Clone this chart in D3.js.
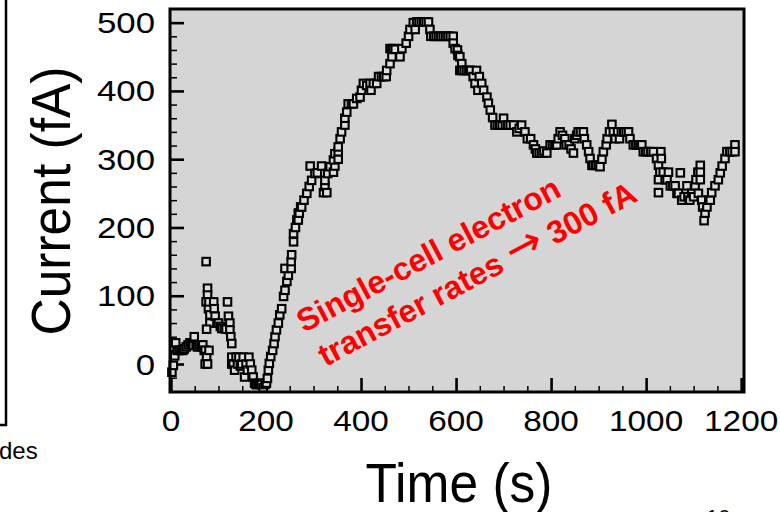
<!DOCTYPE html>
<html><head><meta charset="utf-8">
<script src="https://cdn.jsdelivr.net/npm/d3@7"></script>
<style>body{margin:0;background:#fff}svg{display:block}</style>
</head><body><svg width="780" height="512"></svg>
<script>
const times = [2,5,8,10,13,17,21,25,28,32,36,40,44,47,49,53,56,60,64,67,70,72,72,75,77,80,
74,77,77,74,79,82,82,75,80,90,91,93,97,100,104,107,112,116,119,121,124,124,126,128,
128,128,131,134,137,140,143,146,149,152,155,158,161,164,167,170,173,176,179,183,187,190,194,198,201,
203,205,207,210,214,217,219,222,226,229,233,237,240,244,247,240,253,253,254,258,258,262,265,268,268,270,273,275,280,
286,291,293,296,303,308,317,321,324,324,328,330,335,342,345,342,345,352,352,352,356,359,366,366,370,373,380,384,391,398,401,405,412,419,421,426,433,437,443,448,453,454,461,461,465,465,468,472,482,486,495,500,503,510,514,517,522,527,532,537,542,545,547,
553,558,563,568,573,578,583,588,594,594,598,603,604,608,612,608,612,617,622,627,631,636,640,643,649,646,654,658,665,668,672,677,682,687,692,697,700,704,709,714,721,728,733,738,745,750,757,763,767,770,775,780,785,791,798,803,808,812,815,819,824,829,832,838,842,847,850,854,857,862,868,870,875,879,882,886,889,894,899,903,907,910,916,918,923,928,931,935,940,944,948,953,958,963,966,973,978,983,987,991,994,999,1004,1010,1015,1022,1026,1029,1026,1026,1031,1032,1036,1040,1044,1047,1051,1056,1061,1065,1068,1072,1075,1080,1086,1088,1092,1096,1100,1103,1105,1109,1114,1114,1114,1110,1117,1119,1122,1124,1128,1132,1135,1138,1145,1152,1156,1160,1166,1170,1176,1181,1187,1187];
const currents = [-12,-2,12,31,20,20,20,20,22,25,28,31,30,27,40,28,25,28,25,28,20,0,20,11,0,20,
150,111,101,91,81,72,60,51,91,91,81,70,60,60,55,52,52,51,91,70,60,50,40,30,
10,0,0,-9,10,0,10,-3,0,10,-19,0,-9,10,0,-9,-19,-28,-30,-30,-28,-30,-35,-30,-28,
-21,-9,1,11,20,30,40,50,60,72,81,99,108,121,130,140,140,150,160,179,191,200,211,221,211,221,230,230,240,
250,260,290,269,279,280,290,251,260,269,251,279,289,281,290,299,308,300,311,318,330,340,350,360,369,381,381,381,389,391,401,411,408,411,401,411,411,421,421,421,421,430,440,462,450,461,462,461,450,462,470,480,490,500,490,501,501,501,501,501,501,490,480,
480,480,480,480,480,480,480,480,480,470,462,460,452,450,440,430,430,430,430,430,430,421,411,430,421,401,411,401,391,382,372,361,350,350,350,350,360,350,350,350,350,340,345,350,340,330,330,321,315,309,309,309,312,309,321,321,321,321,330,340,335,330,321,321,315,309,330,335,340,340,340,330,321,311,301,291,291,291,291,289,300,311,321,330,340,351,340,330,340,330,340,340,340,340,330,321,321,321,321,321,311,311,311,311,311,301,291,281,270,251,311,301,281,270,270,281,261,261,261,250,250,280,240,245,261,245,240,250,245,261,270,281,291,281,270,250,240,230,210,221,230,240,240,251,261,270,280,290,301,311,311,311,321,311];
const xTickValues = [0,200,400,600,800,1000,1200];
const yTickValues = [0,100,200,300,400,500];
const xMinorTicks = d3.range(0,1201,50);
const yMinorTicks = d3.range(-20,501,20);
const xTitle = "Time (s)";
const yTitle = "Current (fA)";
const noteLine1 = "Single-cell electron";
const noteLine2 = ["transfer rates ", "\u2192", " 300 fA"];

const svg = d3.select("svg");
const font = "'Liberation Sans', Arial, Helvetica, sans-serif";
const x = d3.scaleLinear().domain([-2,1206]).range([170,744]);
const y = d3.scaleLinear().domain([-41,520]).range([392,9]);

// left decoration (cropped neighbouring panel)
svg.append("path").attr("d","M6,-2V425H-2").attr("fill","none").attr("stroke","#000").attr("stroke-width",2.5);
svg.append("text").attr("x",-1).attr("y",459).attr("font-family",font).attr("font-size",24).text("des");
svg.append("text").attr("x",706).attr("y",525).attr("font-family",font).attr("font-size",22).text("10");

// plot background
svg.append("rect").attr("x",x.range()[0]).attr("y",y.range()[1])
  .attr("width",x.range()[1]-x.range()[0]).attr("height",y.range()[0]-y.range()[1])
  .attr("fill","#d5d5d5");

// minor/major ticks (inside)
const gy = svg.append("g").attr("transform",`translate(${x.range()[0]},0)`);
gy.call(d3.axisLeft(y).tickValues(yMinorTicks.filter(v=>v%100!==0)).tickSize(-7).tickFormat(""));
gy.selectAll(".tick line").attr("stroke-width",1.5);
const gy2 = svg.append("g").attr("transform",`translate(${x.range()[0]},0)`);
gy2.call(d3.axisLeft(y).tickValues(yTickValues).tickSize(-14).tickFormat(""));
gy2.selectAll(".tick line").attr("stroke-width",2.6);
const gx = svg.append("g").attr("transform",`translate(0,${y.range()[0]})`);
gx.call(d3.axisBottom(x).tickValues(xMinorTicks.filter(v=>v%200!==0)).tickSize(-6).tickFormat(""));
gx.selectAll(".tick line").attr("stroke-width",1.5);
const gx2 = svg.append("g").attr("transform",`translate(0,${y.range()[0]})`);
gx2.call(d3.axisBottom(x).tickValues(xTickValues).tickSize(-14).tickFormat(""));
gx2.selectAll(".tick line").attr("stroke-width",2.6);
svg.selectAll(".domain").remove();

// tick labels
svg.append("g").selectAll("text").data(yTickValues).join("text")
  .attr("transform",d=>`translate(155,${y(d)+10.5}) scale(1.2,1)`)
  .attr("text-anchor","end").attr("font-family",font).attr("font-size",29).text(d=>d);
svg.append("g").selectAll("text").data(xTickValues).join("text")
  .attr("transform",d=>`translate(${x(d)},431) scale(1.15,1)`)
  .attr("text-anchor","middle").attr("font-family",font).attr("font-size",29).text(d=>d);

// markers
const data = times.map((t,i)=>({t, v: currents[i]}));
const s = 7.5;
svg.append("g").selectAll("rect").data(data).join("rect")
  .attr("x",d=>x(d.t)-s/2).attr("y",d=>y(d.v)-s/2).attr("width",s).attr("height",s)
  .attr("fill","#dedede").attr("stroke","#000").attr("stroke-width",2.1);

// frame
svg.append("rect").attr("x",x.range()[0]).attr("y",y.range()[1])
  .attr("width",x.range()[1]-x.range()[0]).attr("height",y.range()[0]-y.range()[1])
  .attr("fill","none").attr("stroke","#000").attr("stroke-width",3);

// titles
svg.append("text").attr("transform","translate(459,502) scale(0.92,1)")
  .attr("text-anchor","middle").attr("font-family",font).attr("font-size",56).text(xTitle);
svg.append("text").attr("transform","translate(70,201) rotate(-90) scale(0.92,1)")
  .attr("text-anchor","middle").attr("font-family",font).attr("font-size",56).text(yTitle);

// annotation
const note = svg.append("g").attr("transform","translate(304,333) rotate(-28)")
  .attr("fill","#ff0000").attr("font-weight","bold").attr("font-family",font).attr("font-size",32);
note.append("text").attr("x",0).attr("y",0).text(noteLine1);
const l2 = note.append("text").attr("x",3).attr("y",40);
l2.selectAll("tspan").data(noteLine2).join("tspan")
  .attr("font-family",(d,i)=>i===1?"'DejaVu Sans', sans-serif":null)
  .attr("font-size",(d,i)=>i===1?44:null)
  .attr("font-weight",(d,i)=>i===1?"normal":null)
  .text(d=>d);
</script></body></html>
